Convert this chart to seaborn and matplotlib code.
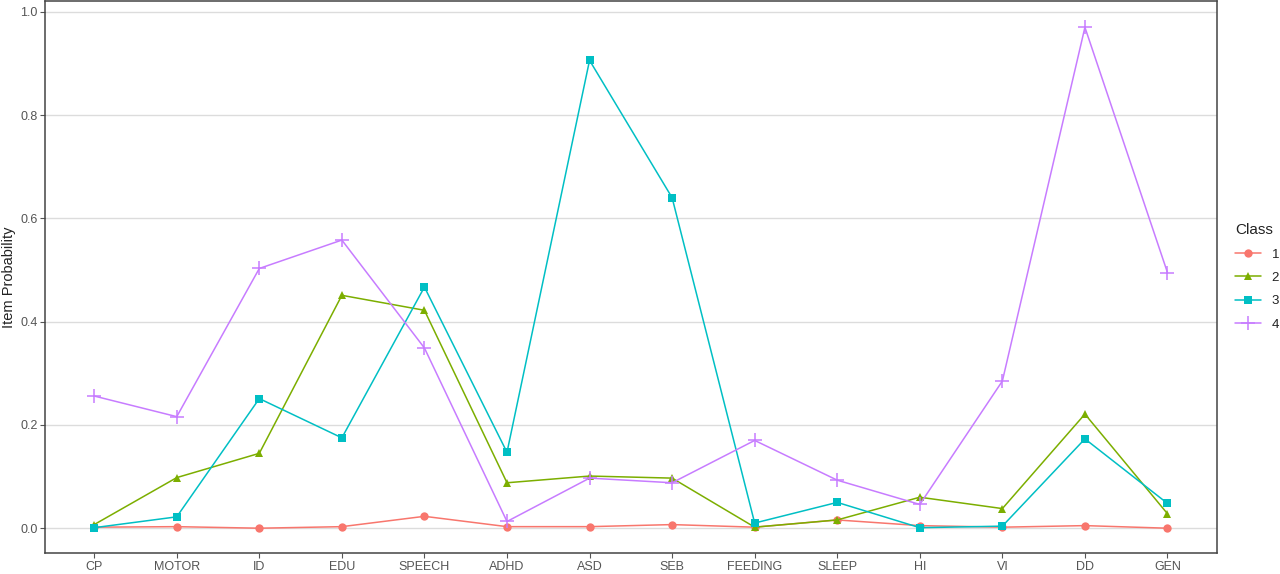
import matplotlib
matplotlib.use("Agg")
import matplotlib.pyplot as plt
import seaborn as sns
import pandas as pd

# item labels and class-wise item probabilities
items = ["CP", "MOTOR", "ID", "EDU", "SPEECH", "ADHD", "ASD", "SEB",
         "FEEDING", "SLEEP", "HI", "VI", "DD", "GEN"]
class_1 = [0.002, 0.003, 0.000, 0.003, 0.023, 0.003, 0.003, 0.007,
           0.002, 0.016, 0.005, 0.002, 0.005, 0.000]
class_2 = [0.007, 0.098, 0.145, 0.451, 0.422, 0.088, 0.101, 0.097,
           0.002, 0.016, 0.060, 0.038, 0.221, 0.028]
class_3 = [0.001, 0.022, 0.251, 0.175, 0.467, 0.147, 0.906, 0.640,
           0.010, 0.050, 0.001, 0.004, 0.173, 0.048]
class_4 = [0.256, 0.216, 0.503, 0.558, 0.349, 0.013, 0.097, 0.088,
           0.170, 0.093, 0.046, 0.285, 0.970, 0.495]
classes = ["1", "2", "3", "4"]

rows = []
for cls, vals in zip(classes, [class_1, class_2, class_3, class_4]):
    for i, v in enumerate(vals):
        rows.append({"item": items[i], "pos": i, "Class": cls, "prob": v})
df = pd.DataFrame(rows)

palette = {"1": "#F8766D", "2": "#7CAE00", "3": "#00BFC4", "4": "#C77CFF"}
markers = {"1": "o", "2": "^", "3": "s", "4": "+"}

sns.set_style("white")
plt.rcParams["font.family"] = ["Liberation Sans", "DejaVu Sans"]

fig = plt.figure(figsize=(12.8, 5.74), dpi=100)
ax = fig.add_axes([0.0352, 0.0366, 0.9156, 0.9617])

# one call per class, since filled and line markers can't share a style map
for cls in classes:
    sub = df[df["Class"] == cls]
    if markers[cls] == "+":
        mk = dict(markersize=10, markeredgewidth=1.1,
                  markeredgecolor=palette[cls])
    else:
        mk = dict(markersize=6, markeredgewidth=0)
    sns.lineplot(data=sub, x="pos", y="prob", color=palette[cls],
                 marker=markers[cls], linewidth=1.1, label=cls, ax=ax, **mk)

ax.set_xlim(-0.595, len(items) - 0.4)
ax.set_ylim(-0.048, 1.021)
ax.set_xticks(range(len(items)))
ax.set_xticklabels(items)
ax.set_yticks([0.0, 0.2, 0.4, 0.6, 0.8, 1.0])
ax.set_yticklabels(["0.0", "0.2", "0.4", "0.6", "0.8", "1.0"])
ax.set_xlabel("")
ax.set_ylabel("Item Probability", fontsize=10.5, color="#222222", labelpad=3)
ax.yaxis.grid(True, color="#dcdcdc", linewidth=1)
ax.xaxis.grid(False)
ax.set_axisbelow(True)
for s in ax.spines.values():
    s.set_color("#444444")
    s.set_linewidth(1.1)
ax.tick_params(axis="both", length=3.5, width=0.8, color="#555555",
               labelsize=9, labelcolor="#555555", direction="out",
               bottom=True, left=True, pad=2)

leg = ax.legend(title="Class", loc="center left", bbox_to_anchor=(1.005, 0.5),
                frameon=False, fontsize=9.5, title_fontsize=11,
                handlelength=2, labelspacing=0.85)
for t in leg.get_texts():
    t.set_color("#222222")
leg.get_title().set_color("#222222")
leg._legend_box.align = "left"

fig.savefig("out.png", dpi=100)
